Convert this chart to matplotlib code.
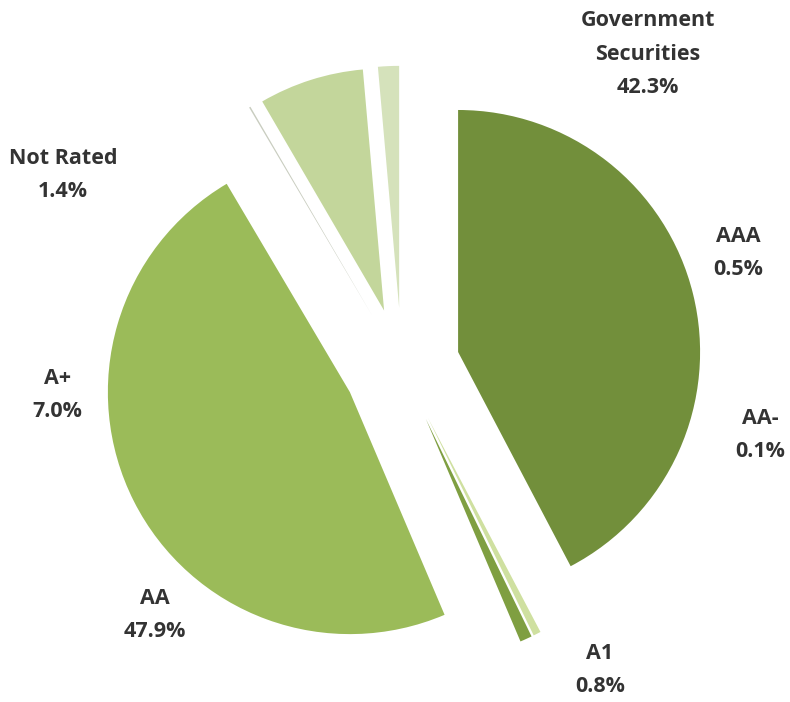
import matplotlib
matplotlib.use("Agg")
import matplotlib.pyplot as plt

# rating split, clockwise from 12 o'clock
ratings = ["Government\nSecurities", "AAA", "A1", "AA", "AA-", "A+", "Not Rated"]
shares = [42.3, 0.5, 0.8, 47.9, 0.1, 7.0, 1.4]
colors = ["#728f3b", "#cfe0a0", "#7f9f41", "#9bbb59", "#c9cdc0", "#c3d69b", "#d5e2bb"]

# where the data labels sit (pixels from top-left)
label_xy = [(648, 54), (738, 253), (600, 670), (155, 615), (760, 435), (57, 395), (63, 175)]

W, H = 790, 702
fig = plt.figure(figsize=(W / 100, H / 100), dpi=100)
ax = fig.add_axes([0, 0, 1, 1])

cx, cy, r = 401.7, H - 365.9, 242
# explode is in data units here, so scale it by the radius
ax.pie(shares, colors=colors, startangle=90, counterclock=False,
       explode=[0.24 * r] * len(shares), radius=r, center=(cx, cy),
       wedgeprops=dict(linewidth=0))

for name, val, (x, y) in zip(ratings, shares, label_xy):
    ax.text(x, H - y, "{}\n{:.1f}%".format(name, val), ha="center", va="center",
            fontsize=15.5, fontweight="bold", color="#333333", family="Open Sans",
            linespacing=1.8)

ax.set_xlim(0, W)
ax.set_ylim(0, H)
ax.set_aspect("equal")
ax.axis("off")
fig.savefig("out.png", dpi=100)
